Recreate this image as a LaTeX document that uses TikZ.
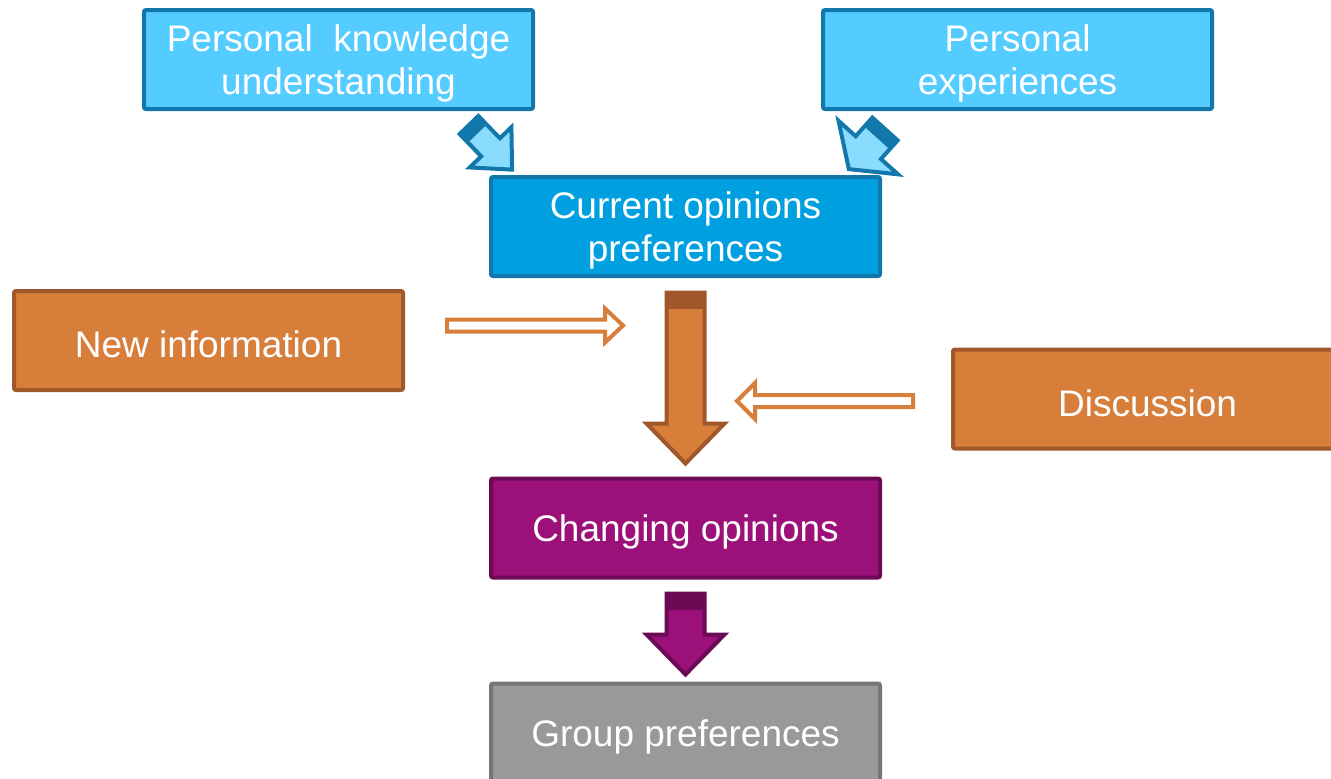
\documentclass[tikz,border=0pt]{standalone}
\usepackage{fontspec}
\setmainfont{Liberation Sans}
\usetikzlibrary{calc}
\definecolor{ltblue}{HTML}{55CCFF}
\definecolor{dkblue}{HTML}{1277AA}
\definecolor{midblue}{HTML}{00A0E0}
\definecolor{arblue}{HTML}{8ADCFF}
\definecolor{orfill}{HTML}{D77E3A}
\definecolor{ordraw}{HTML}{A0582A}
\definecolor{purfill}{HTML}{9B1079}
\definecolor{purdraw}{HTML}{6B0A55}
\definecolor{grfill}{HTML}{999999}
\definecolor{grdraw}{HTML}{777777}

% #1 fill, #2 dark, #3 tail, #4 angle, #5 length, #6 shaft half, #7 head half, #8 head length, #9 band
\newcommand{\blockarrow}[9]{%
\begin{scope}[shift={#3}, rotate=#4]
\filldraw[fill=#1, draw=#2, line width=2pt, line join=miter]
 (0,-#6) -- (#5-#8,-#6) -- (#5-#8,-#7) -- (#5,0) -- (#5-#8,#7) -- (#5-#8,#6) -- (0,#6) -- cycle;
\fill[#2] (0,-#6) rectangle (#9,#6);
\end{scope}}

\tikzset{box/.style={rectangle, rounded corners=1pt, line width=2pt, minimum width=194.5pt, minimum height=49.5pt,
  text=white, align=center, font=\fontsize{18.5pt}{21.5pt}\selectfont, text height=17.3pt},
  twolines/.style={text height=38.8pt}}

\begin{document}
\begin{tikzpicture}[x=0.5pt,y=-0.5pt]
\clip (0,0) rectangle (1331,778);

%boxes
\node[box, twolines, fill=ltblue, draw=dkblue] (pk) at (338.5,59.5) {Personal\ \ knowledge\\understanding};
\node[box, twolines, fill=ltblue, draw=dkblue] (pe) at (1017.5,59.5) {Personal\\experiences};
\node[box, twolines, fill=midblue, draw=dkblue] (cur) at (685.5,226.5) {Current opinions\\preferences};
\node[box, fill=orfill, draw=ordraw] (newinfo) at (208.5,340.5) {New information};
\node[box, fill=orfill, draw=ordraw] (disc) at (1147.5,399) {Discussion};
\node[box, fill=purfill, draw=purdraw] (chg) at (685.5,528) {Changing opinions};
\node[box, fill=grfill, draw=grdraw] (grp) at (685.5,733) {Group preferences};
%fin

%block arrows
\blockarrow{arblue}{dkblue}{($(pk.south east)+(-66,14)$)}{-46}{62}{13}{29}{31}{12}
\blockarrow{arblue}{dkblue}{($(pe.south west)+(64,18)$)}{-132}{54}{17}{40}{29}{12}
\blockarrow{orfill}{ordraw}{($(cur.south)+(0,14.5)$)}{-90}{171}{19}{39}{40}{16}
\blockarrow{purfill}{purdraw}{($(chg.south)+(0,14)$)}{-90}{81}{19}{39}{40}{16}
%fin

%hollow arrows
\begin{scope}[shift={($(newinfo.east)+(42,-15)$)}]
\draw[orfill, fill=white, line width=2pt, line join=miter] (0,-6) -- (158,-6) -- (158,-17) -- (176,0) -- (158,17) -- (158,6) -- (0,6) -- cycle;
\end{scope}
\begin{scope}[shift={($(disc.west)+(-38,2)$)}, rotate=180]
\draw[orfill, fill=white, line width=2pt, line join=miter] (0,-6) -- (158,-6) -- (158,-18) -- (176,0) -- (158,18) -- (158,6) -- (0,6) -- cycle;
\end{scope}
%fin
\end{tikzpicture}
\end{document}
